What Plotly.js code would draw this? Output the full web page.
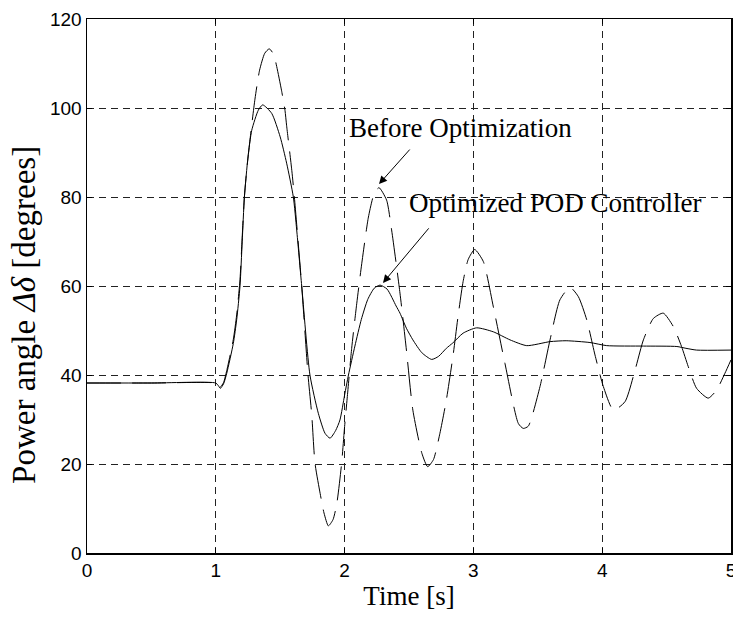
<!DOCTYPE html>
<html>
<head>
<meta charset="utf-8">
<script src="https://cdn.plot.ly/plotly-3.0.1.min.js"></script>
<style>html,body{margin:0;padding:0;background:#fff;}</style>
</head>
<body>
<div id="chart" style="width:733px;height:621px;"></div>
<script>
// Optimized POD Controller (solid)
const optT = [0, 0.5, 1.0, 1.02, 1.035, 1.06, 1.085, 1.136, 1.162, 1.188, 1.205, 1.222, 1.25, 1.279, 1.33, 1.364, 1.434, 1.50, 1.55, 1.602, 1.628, 1.667, 1.731, 1.796, 1.848, 1.887, 1.93, 1.964, 2.0, 2.03, 2.08, 2.13, 2.18, 2.23, 2.275, 2.33, 2.40, 2.43, 2.48, 2.53, 2.60, 2.676, 2.73, 2.79, 2.84, 2.92, 3.025, 3.155, 3.284, 3.414, 3.595, 3.72, 3.905, 4.035, 4.32, 4.58, 4.65, 4.733, 5.0];
const optV = [38.2, 38.2, 38.2, 37.6, 37.0, 38.0, 40.4, 47.1, 52.4, 60, 70, 80, 89, 95, 99.5, 100.7, 98.8, 93.5, 87.6, 80, 72.6, 60, 40, 31.4, 26.9, 25.8, 27.5, 29.9, 35.5, 40, 46.5, 52.5, 57, 59.5, 60.2, 59.3, 55.5, 53.9, 50.5, 47.9, 45, 43.5, 44.2, 46, 47.2, 49.4, 50.6, 49.7, 47.9, 46.6, 47.5, 47.7, 47.3, 46.6, 46.5, 46.4, 46.0, 45.6, 45.6];

// Before Optimization (dashed)
const befT = [0, 0.5, 1.0, 1.02, 1.035, 1.06, 1.085, 1.136, 1.162, 1.188, 1.205, 1.222, 1.24, 1.266, 1.304, 1.34, 1.38, 1.415, 1.45, 1.473, 1.51, 1.537, 1.55, 1.59, 1.61, 1.667, 1.716, 1.745, 1.77, 1.81, 1.84, 1.874, 1.91, 1.94, 1.977, 2.0, 2.02, 2.055, 2.094, 2.133, 2.185, 2.23, 2.267, 2.326, 2.365, 2.43, 2.48, 2.53, 2.60, 2.645, 2.69, 2.74, 2.79, 2.845, 2.88, 2.92, 2.96, 3.01, 3.077, 3.155, 3.245, 3.349, 3.387, 3.426, 3.517, 3.595, 3.672, 3.75, 3.815, 3.88, 3.944, 4.009, 4.087, 4.177, 4.255, 4.32, 4.397, 4.474, 4.552, 4.616, 4.668, 4.733, 4.823, 4.888, 4.953, 5.0];
const befV = [38.2, 38.2, 38.2, 37.8, 37.3, 38.3, 41, 48, 53.5, 61.5, 71, 80, 86, 93, 102, 108.5, 112.3, 113.3, 112, 109.3, 104, 99.5, 96, 86, 80, 60, 40, 31, 20.2, 13.4, 9, 6.1, 7.5, 11.2, 20.2, 28.4, 34.8, 46, 56, 65, 75.5, 80.8, 82.1, 79.3, 72.6, 58.4, 45.6, 32.1, 22.4, 19.4, 21, 26.9, 34.4, 45, 53, 61, 66, 68.2, 65.5, 55.3, 42.6, 29.1, 28.0, 28.5, 37.4, 47.9, 56.9, 59.7, 57.6, 52.4, 44.5, 37.4, 32.1, 34, 41.1, 47.9, 52.7, 53.9, 50.9, 46.4, 41.9, 37, 34.8, 36.6, 40.4, 43.4];

const xTicks = [0, 1, 2, 3, 4, 5];
const yTicks = [0, 20, 40, 60, 80, 100, 120];

const traces = [
  {x: befT, y: befV, type: 'scatter', mode: 'lines', name: 'Before Optimization',
   line: {color: '#000', width: 1, dash: '34px,11px', shape: 'spline', smoothing: 0.6}, hoverinfo: 'skip'},
  {x: optT, y: optV, type: 'scatter', mode: 'lines', name: 'Optimized POD Controller',
   line: {color: '#000', width: 1, shape: 'spline', smoothing: 0.6}, hoverinfo: 'skip'}
];

const serif = 'Liberation Serif, Times New Roman, serif';
const sans = 'Liberation Sans, Arial, sans-serif';

const layout = {
  width: 733, height: 621,
  margin: {l: 87, r: 2, t: 19, b: 68},
  paper_bgcolor: '#fff', plot_bgcolor: '#fff',
  showlegend: false,
  xaxis: {
    range: [0, 5], tickvals: xTicks, ticktext: xTicks.map(String),
    showgrid: true, gridcolor: '#222', gridwidth: 1, griddash: '7px,5px',
    zeroline: false, showline: true, linecolor: '#000', linewidth: 1.5, mirror: 'ticks',
    ticks: 'inside', ticklen: 5, tickcolor: '#000', ticklabeloverflow: 'allow',
    tickfont: {family: sans, size: 19, color: '#000'},
    title: {text: 'Time [s]', font: {family: serif, size: 27, color: '#000'}, standoff: 6},
    automargin: false
  },
  yaxis: {
    range: [0, 120], tickvals: yTicks, ticktext: yTicks.map(String),
    showgrid: true, gridcolor: '#222', gridwidth: 1, griddash: '7px,5px',
    zeroline: false, showline: true, linecolor: '#000', linewidth: 1.5, mirror: 'ticks',
    ticks: 'inside', ticklen: 5, tickcolor: '#000', ticklabeloverflow: 'allow',
    tickfont: {family: sans, size: 19, color: '#000'},
    title: {text: 'Power angle <i>Δδ</i> [degrees]&nbsp;&nbsp;&nbsp;&nbsp;&nbsp;&nbsp;&nbsp;',
            font: {family: serif, size: 33, color: '#000'}, standoff: 4},
    automargin: false
  },
  annotations: [
    {x: 2.896, y: 95.5, xref: 'x', yref: 'y', text: 'Before Optimization', showarrow: false,
     font: {family: serif, size: 27, color: '#000'}, xanchor: 'center', yanchor: 'middle'},
    {x: 3.634, y: 78.7, xref: 'x', yref: 'y', text: 'Optimized POD Controller', showarrow: false,
     font: {family: serif, size: 27, color: '#000'}, xanchor: 'center', yanchor: 'middle'},
    {x: 2.267, y: 82.9, ax: 2.516, ay: 91.0, xref: 'x', yref: 'y', axref: 'x', ayref: 'y',
     text: '', showarrow: true, arrowhead: 2, arrowsize: 1.6, arrowwidth: 1, arrowcolor: '#000'},
    {x: 2.298, y: 60.7, ax: 2.663, ay: 73.3, xref: 'x', yref: 'y', axref: 'x', ayref: 'y',
     text: '', showarrow: true, arrowhead: 2, arrowsize: 1.6, arrowwidth: 1, arrowcolor: '#000'}
  ]
};

Plotly.newPlot('chart', traces, layout, {displayModeBar: false, staticPlot: true});
</script>
</body>
</html>
